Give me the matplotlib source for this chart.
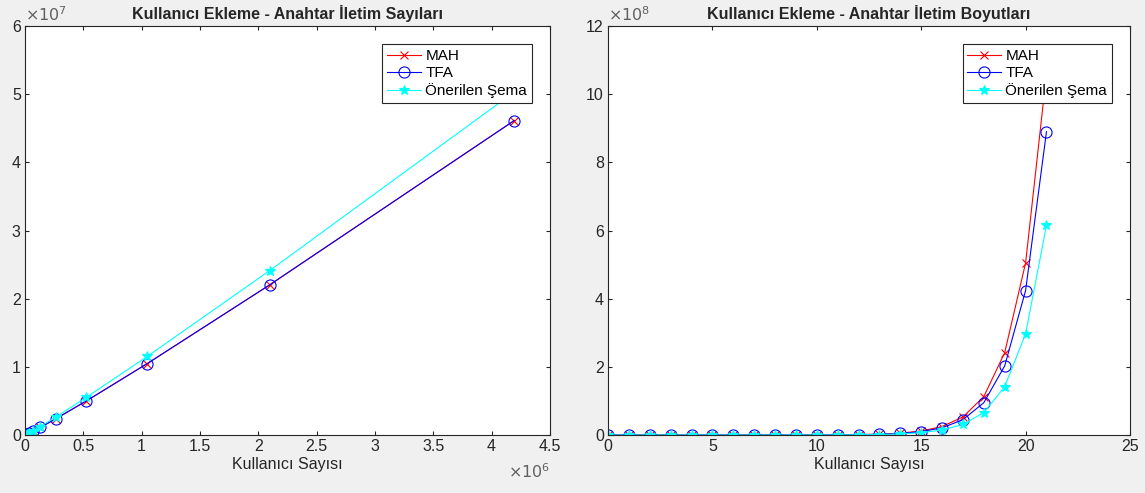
import matplotlib.pyplot as plt
from matplotlib.ticker import FuncFormatter

plt.rcParams['font.family'] = ['Liberation Sans', 'DejaVu Sans']

# left panel: number of users (2^k) vs. key transmission counts
users_left = [1, 2, 4, 8, 16, 32, 64, 128, 256, 512, 1024, 2048, 4096, 8192,
              16384, 32768, 65536, 131072, 262144, 524288, 1048576, 2097152, 4194304]
mah_count = [0, 1, 4, 12, 32, 80, 192, 448, 1024, 2304, 5120, 11264, 24576, 53248,
             114688, 245760, 524288, 1114112, 2359296, 4980736, 10485760, 22020096, 46137344]
tfa_count = [0, 1, 4, 12, 32, 80, 192, 448, 1024, 2304, 5120, 11264, 24576, 53248,
             114688, 245760, 524288, 1114112, 2359296, 4980736, 10485760, 22020096, 46137344]
prop_count = [1, 3, 8, 20, 48, 112, 256, 576, 1280, 2816, 6144, 13312, 28672, 61440,
              131072, 278528, 589824, 1245184, 2621440, 5505024, 11534336, 24117248, 50331648]

# right panel: users vs. key transmission sizes
users_right = list(range(22))
mah_size = [0, 48, 192, 576, 1.5e3, 3.8e3, 9.2e3, 2.2e4, 4.9e4, 1.1e5, 2.5e5, 5.4e5,
            1.2e6, 2.6e6, 5.5e6, 1.18e7, 2.5e7, 5.3e7, 1.13e8, 2.42e8, 5.05e8, 1.06e9]
tfa_size = [0, 40, 162, 485, 1.3e3, 3.2e3, 7.8e3, 1.8e4, 4.1e4, 9.3e4, 2.07e5, 4.55e5,
            9.9e5, 2.15e6, 4.63e6, 9.9e6, 2.12e7, 4.5e7, 9.5e7, 2.03e8, 4.24e8, 8.9e8]
prop_size = [0, 28, 112, 336, 900, 2.2e3, 5.4e3, 1.25e4, 2.9e4, 6.5e4, 1.4e5, 3.2e5,
             6.9e5, 1.5e6, 3.2e6, 6.9e6, 1.47e7, 3.1e7, 6.6e7, 1.42e8, 2.97e8, 6.15e8]

labels = ['MAH', 'TFA', 'Önerilen Şema']

fig = plt.figure(figsize=(11.45, 4.93), dpi=100)
fig.patch.set_facecolor('#f0f0f0')
ax1 = fig.add_axes([0.0218, 0.1176, 0.4585, 0.8296])
ax2 = fig.add_axes([0.531, 0.1176, 0.4559, 0.8296])

FS = 11.5


def draw(ax, x, a, b, c):
    ax.plot(x, a, color='red', marker='x', lw=0.8, ms=6, mew=0.8, label=labels[0])
    ax.plot(x, b, color='blue', marker='o', mfc='none', lw=0.8, ms=8, mew=0.8, label=labels[1])
    ax.plot(x, c, color='cyan', marker='*', lw=0.8, ms=7, mew=0.8, label=labels[2])
    ax.tick_params(direction='in', top=True, right=True, length=3, width=0.8,
                   labelsize=FS, colors='#262626', pad=3)
    for s in ax.spines.values():
        s.set_color('#262626')
        s.set_linewidth(0.8)
    ax.set_xlabel('Kullanıcı Sayısı', fontsize=FS, color='#262626', labelpad=2)
    leg = ax.legend(loc='upper right', fontsize=FS - 0.5, frameon=True, fancybox=False,
                    edgecolor='#262626', framealpha=1, handlelength=2.2, borderpad=0.3,
                    labelspacing=0.2, handletextpad=0.3, borderaxespad=1.2)
    leg.get_frame().set_linewidth(0.8)


draw(ax1, users_left, mah_count, tfa_count, prop_count)
ax1.set_xlim(0, 4.5e6)
ax1.set_ylim(0, 6e7)
ax1.set_xticks([i * 0.5e6 for i in range(10)])
ax1.set_yticks([i * 1e7 for i in range(7)])
ax1.xaxis.set_major_formatter(FuncFormatter(lambda v, _: f'{v / 1e6:g}'))
ax1.yaxis.set_major_formatter(FuncFormatter(lambda v, _: f'{v / 1e7:g}'))
ax1.set_title('Kullanıcı Ekleme - Anahtar İletim Sayıları', fontsize=FS,
              fontweight='bold', color='#262626', pad=5)
ax1.text(0.0, 1.005, r'$\times10^{7}$', transform=ax1.transAxes, fontsize=FS,
         color='#606060', ha='left', va='bottom')
ax1.text(1.0, -0.09, r'$\times10^{6}$', transform=ax1.transAxes, fontsize=FS,
         color='#606060', ha='right', va='center')

draw(ax2, users_right, mah_size, tfa_size, prop_size)
ax2.set_xlim(0, 25)
ax2.set_ylim(0, 12e8)
ax2.set_xticks(range(0, 26, 5))
ax2.set_yticks([i * 2e8 for i in range(7)])
ax2.yaxis.set_major_formatter(FuncFormatter(lambda v, _: f'{v / 1e8:g}'))
ax2.set_title('Kullanıcı Ekleme - Anahtar İletim Boyutları', fontsize=FS,
              fontweight='bold', color='#262626', pad=5)
ax2.text(0.0, 1.005, r'$\times10^{8}$', transform=ax2.transAxes, fontsize=FS,
         color='#606060', ha='left', va='bottom')

fig.savefig('out.png', dpi=100, facecolor=fig.get_facecolor())
